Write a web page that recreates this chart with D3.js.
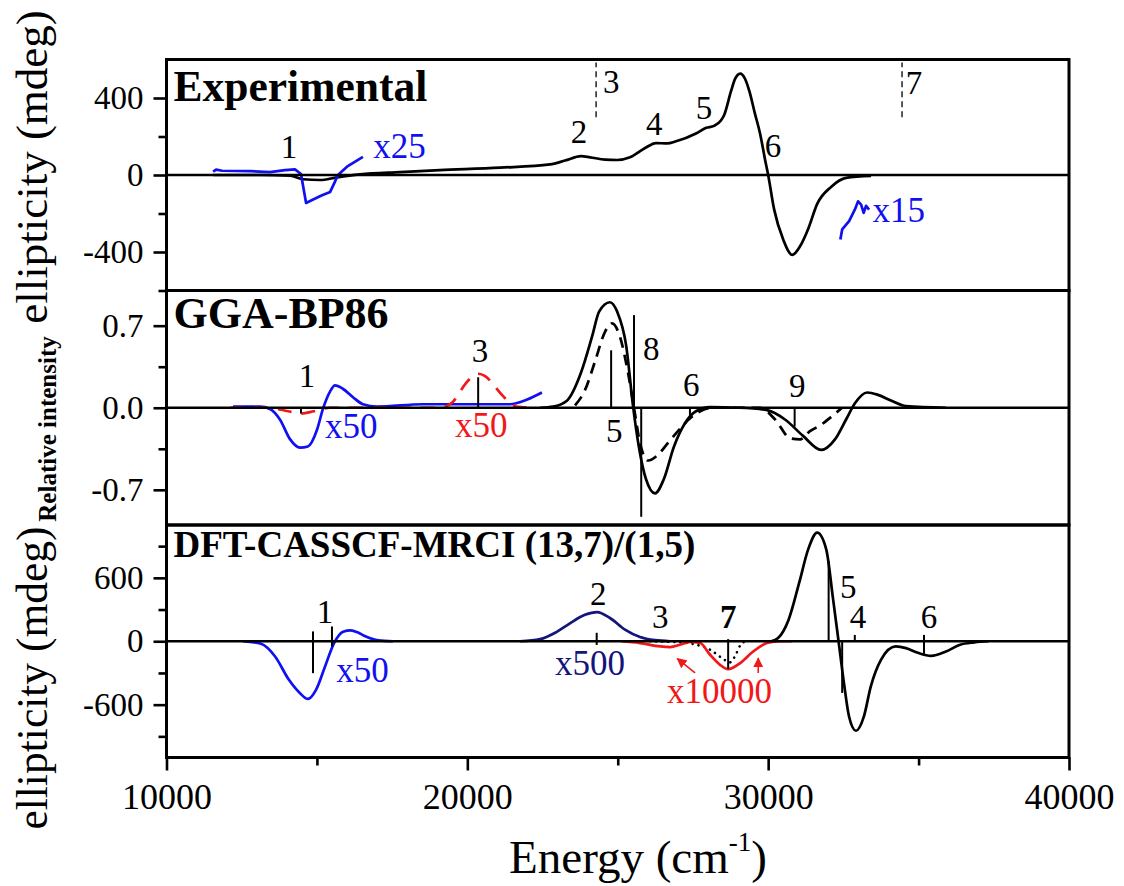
<!DOCTYPE html>
<html>
<head>
<meta charset="utf-8">
<script src="https://cdn.jsdelivr.net/npm/d3@7"></script>
<style>
  html, body { margin: 0; padding: 0; background: #fff; }
  svg { display: block; }
</style>
</head>
<body>
<div id="chart"></div>
<script>
// ---- x axis ----
const energyMajor = [10000, 20000, 30000, 40000];
const energyMinor = [15000, 25000, 35000];

// ---- panel 1: Experimental (mdeg) ----
const expTicksMajor = [-400, 0, 400];
const expTicksMinor = [-600, -200, 200];
const expMain = [
  [11550, 0], [13110, 0], [14110, -3], [14540, -22], [15100, -26], [15670, -12],
  [16430, 3], [17760, 15], [19090, 25], [21090, 38], [22750, 55], [23250, 75],
  [23780, 98], [24080, 92], [24580, 80], [24980, 78], [25410, 92], [25910, 140],
  [26270, 166], [26640, 164], [26940, 175], [27600, 216], [27940, 245], [28200, 255],
  [28430, 283], [28530, 309], [28770, 438], [28900, 499], [29070, 527], [29230, 500],
  [29370, 438], [29560, 319], [29730, 216], [29900, 77], [30000, 0], [30200, -180],
  [30500, -335], [30800, -415], [31060, -370], [31330, -280], [31630, -150],
  [32090, -62], [32590, -15], [33420, -5]
];
const expX25 = [
  [11550, 17], [11650, 28], [11850, 22], [12780, 20], [13440, 15], [13940, 25],
  [14270, 29], [14470, 5], [14640, -145], [14840, -130], [15170, -105], [15440, -88],
  [15570, -45], [15700, 0], [16000, 43], [16530, 94]
];
const expX15 = [
  [32400, -335], [32460, -283], [32690, -240], [32880, -180], [32990, -137],
  [33090, -154], [33175, -197], [33255, -160], [33355, -180]
];
const expDashed = [[24280, 300, 600], [34450, 300, 600]];
const expLabels = [
  ["1", 14070, 88], ["2", 23710, 165], ["3", 24780, 427], ["4", 26210, 206],
  ["5", 27870, 293], ["6", 30160, 93], ["7", 34850, 422]
];
const expNotes = [["x25", 16870, 88], ["x15", 33470, -242]];

// ---- panel 2: GGA-BP86 (relative intensity) ----
const ggaTicksMajor = [-0.7, 0, 0.7];
const ggaTicksMinor = [-0.35, 0.35];
const ggaSolid = [
  [22420, 0], [22850, 0.01], [23310, 0.06], [23780, 0.30], [24150, 0.61],
  [24380, 0.82], [24740, 0.90], [24980, 0.82], [25280, 0.53], [25510, 0.01],
  [25700, -0.33], [25940, -0.61], [26240, -0.73], [26530, -0.61], [26870, -0.33],
  [27240, -0.13], [27600, -0.03], [28070, 0.005], [29020, 0], [29960, -0.02],
  [30560, -0.10], [31160, -0.24], [31760, -0.36], [32220, -0.27], [32590, -0.10],
  [32890, 0.04], [33290, 0.13], [33650, 0.11], [34120, 0.057], [34580, 0.014],
  [35910, 0]
];
const ggaDashed = [
  [23580, 0.02], [23910, 0.15], [24250, 0.4], [24580, 0.65], [24810, 0.72],
  [25080, 0.6], [25340, 0.3], [25540, 0], [25740, -0.3], [26010, -0.45],
  [26340, -0.4], [26670, -0.3], [27070, -0.18], [27400, -0.09], [27740, -0.03],
  [28140, 0], [29730, 0], [30230, -0.1], [30730, -0.26], [31060, -0.27],
  [31390, -0.2], [31790, -0.14], [32130, -0.07], [32460, 0]
];
const ggaBlueX50 = [
  [12210, 0.01], [13110, 0.01], [13440, -0.01], [13770, -0.1], [14110, -0.27],
  [14440, -0.34], [14700, -0.33], [15000, -0.19], [15200, -0.01], [15440, 0.14],
  [15600, 0.19], [15870, 0.16], [16200, 0.09], [16530, 0.03], [17000, 0.01],
  [18530, 0.03], [19660, 0.03], [21420, 0.03], [21650, 0.04], [21990, 0.07],
  [22480, 0.13]
];
const ggaRedX50 = [
  [12110, 0], [13440, 0], [14040, -0.03], [14470, -0.05], [14900, -0.03],
  [15440, 0], [19090, 0], [19520, 0.05], [19760, 0.14], [19990, 0.22],
  [20190, 0.27], [20360, 0.29], [20590, 0.27], [20920, 0.18], [21150, 0.11],
  [21390, 0.05], [21620, 0.01], [22080, 0]
];
const ggaSticks = [
  [14470, -0.05, 0], [20360, 0, 0.26], [24780, 0, 0.49], [25540, 0, 0.79],
  [25780, -0.93, 0], [27400, -0.1, 0], [30880, -0.16, 0]
];
const ggaLabels = [
  ["1", 14670, 0.174], ["3", 20420, 0.39], ["8", 26110, 0.41],
  ["6", 27440, 0.097], ["9", 30970, 0.088], ["5", 24880, -0.29]
];
const ggaNotes = [["x50", 15270, -0.255, "blue"], ["x50", 19590, -0.247, "red"]];

// ---- panel 3: DFT-CASSCF-MRCI (mdeg) ----
const mrciTicksMajor = [-600, 0, 600];
const mrciTicksMinor = [-900, -300, 300, 900];
const mrciMain = [
  [30100, 0], [30330, 30], [30680, 204], [31030, 552], [31330, 869], [31630, 1027],
  [31930, 869], [32160, 394], [32340, 0], [32520, -397], [32690, -714],
  [32920, -847], [33180, -714], [33410, -429], [33750, -176], [34240, -49],
  [34580, -65], [34950, -106], [35420, -138], [35910, -97], [36380, -33],
  [36850, -11], [37330, 0]
];
const mrciBlueX50 = [
  [12540, 0], [13140, -24], [13610, -144], [14070, -365], [14440, -492],
  [14700, -546], [14970, -460], [15270, -239], [15570, -17], [15870, 90],
  [16120, 103], [16350, 85], [16570, 52], [17050, 8], [17530, 0]
];
const mrciNavyX500 = [
  [21750, 0], [22420, 20], [22920, 80], [23410, 170], [23910, 250], [24310, 275],
  [24740, 220], [25240, 110], [25740, 40], [26240, 10], [26740, 0]
];
const mrciRedX10000 = [
  [25110, 0], [25740, -17], [26410, -49], [26740, -55], [27070, -33], [27400, -5],
  [27740, -17], [28070, -128], [28400, -223], [28670, -264], [29070, -207],
  [29500, -97], [29960, -17], [30400, 0], [30800, 0]
];
const mrciDotted = [
  [26070, 0], [27070, -10], [27570, -30], [28070, -80], [28470, -160],
  [28730, -200], [28900, -140], [29070, -40], [29230, 0]
];
const mrciSticks = [
  [14870, -302, 93], [15500, -49, 140], [24300, -35, 80], [28670, -264, 20],
  [32010, 0, 758], [32460, -489, 0], [32880, 0, 60], [35180, -130, 60]
];
const mrciLabels = [
  ["1", 15270, 176, false], ["2", 24350, 347, false], ["3", 26410, 128, false],
  ["7", 28670, 128, true], ["5", 32660, 413, false], ["4", 32990, 128, false],
  ["6", 35350, 128, false]
];
const mrciNotes = [
  ["x50", 15640, -382, "blue"], ["x500", 22910, -318, "navy"], ["x10000", 26640, -584, "red"]
];
const mrciArrows = [[27570, -300, 26980, -165], [29670, -300, 29670, -160]];

// ---- layout ----
const W = 1124, H = 886;
const L = 166.5, R = 1069;
const FONT = "'Liberation Serif', 'Times New Roman', Times, serif";
const colors = { blue: "#1010f0", navy: "#14147a", red: "#f01818", black: "#000" };

const svg = d3.select("#chart").append("svg")
  .attr("width", W).attr("height", H).style("font-family", FONT);

const defs = svg.append("defs");
defs.append("marker")
  .attr("id", "redhead").attr("viewBox", "0 0 10 10").attr("refX", 9).attr("refY", 5)
  .attr("markerWidth", 10).attr("markerHeight", 10).attr("markerUnits", "userSpaceOnUse")
  .attr("orient", "auto")
  .append("path").attr("d", "M0,0 L10,5 L0,10 Z").attr("fill", colors.red);

const x = d3.scaleLinear().domain([10000, 40000]).range([L, R]);

const panels = [
  { top: 59.5, bottom: 290.5, domain: [-600, 600], major: expTicksMajor, minor: expTicksMinor,
    fmt: d => String(d), title: "Experimental", titleSize: 43.5, titleY: 101 },
  { top: 290.5, bottom: 525, domain: [-1, 1], major: ggaTicksMajor, minor: ggaTicksMinor,
    fmt: d => d.toFixed(1), title: "GGA-BP86", titleSize: 44, titleY: 328 },
  { top: 525, bottom: 757.5, domain: [-1100, 1100], major: mrciTicksMajor, minor: mrciTicksMinor,
    fmt: d => String(d), title: "DFT-CASSCF-MRCI (13,7)/(1,5)", titleSize: 37, titleY: 557 }
];
panels.forEach(p => { p.y = d3.scaleLinear().domain(p.domain).range([p.bottom, p.top]); });

const line = (y, curve) => d3.line().x(d => x(d[0])).y(d => y(d[1])).curve(curve || d3.curveMonotoneX);

function drawCurve(p, data, color, opts = {}) {
  svg.append("path").datum(data)
    .attr("d", line(p.y, opts.curve))
    .attr("fill", "none").attr("stroke", color)
    .attr("stroke-width", opts.width || 2.7)
    .attr("stroke-dasharray", opts.dash || null)
    .attr("stroke-linecap", opts.cap || "butt")
    .attr("stroke-linejoin", "round");
}

function drawSticks(p, sticks, color) {
  svg.append("g").selectAll("line").data(sticks).join("line")
    .attr("x1", d => x(d[0])).attr("x2", d => x(d[0]))
    .attr("y1", d => p.y(d[1])).attr("y2", d => p.y(d[2]))
    .attr("stroke", color || "#000").attr("stroke-width", 2);
}

function drawLabels(p, labels) {
  svg.append("g").selectAll("text").data(labels).join("text")
    .attr("x", d => x(d[1])).attr("y", d => p.y(d[2]))
    .attr("text-anchor", "middle").attr("font-size", 33)
    .attr("font-weight", d => d[3] ? "bold" : "normal")
    .attr("fill", "#000").text(d => d[0]);
}

function drawNotes(p, notes, defColor) {
  svg.append("g").selectAll("text").data(notes).join("text")
    .attr("x", d => x(d[1])).attr("y", d => p.y(d[2]))
    .attr("font-size", 35).attr("fill", d => colors[d[3] || defColor])
    .text(d => d[0]);
}

// ---- panel 1 ----
const p1 = panels[0];
svg.append("g").selectAll("line").data(expDashed).join("line")
  .attr("x1", d => x(d[0])).attr("x2", d => x(d[0]))
  .attr("y1", d => p1.y(d[1])).attr("y2", d => p1.y(d[2]) + 3)
  .attr("stroke", "#000").attr("stroke-width", 1.3).attr("stroke-dasharray", "6,4");
drawCurve(p1, expMain, "#000");
drawCurve(p1, expX25, colors.blue, { curve: d3.curveLinear });
drawCurve(p1, expX15, colors.blue, { curve: d3.curveLinear });
drawLabels(p1, expLabels);
drawNotes(p1, expNotes.map(d => [...d, "blue"]), "blue");

// ---- panel 2 ----
const p2 = panels[1];
drawCurve(p2, ggaBlueX50, colors.blue);
drawCurve(p2, ggaRedX50, colors.red, { dash: "14,10" });
drawCurve(p2, ggaDashed, "#000", { dash: "11,7" });
drawCurve(p2, ggaSolid, "#000");
drawSticks(p2, ggaSticks);
drawLabels(p2, ggaLabels);
drawNotes(p2, ggaNotes, "blue");

// ---- panel 3 ----
const p3 = panels[2];
drawCurve(p3, mrciBlueX50, colors.blue);
drawCurve(p3, mrciNavyX500, colors.navy);
drawCurve(p3, mrciDotted, "#000", { dash: "0.1,6", cap: "round", width: 2.6 });
drawCurve(p3, mrciRedX10000, colors.red);
drawCurve(p3, mrciMain, "#000");
drawSticks(p3, mrciSticks);
drawLabels(p3, mrciLabels);
drawNotes(p3, mrciNotes, "blue");
svg.append("g").selectAll("line").data(mrciArrows).join("line")
  .attr("x1", d => x(d[0])).attr("y1", d => p3.y(d[1]))
  .attr("x2", d => x(d[2])).attr("y2", d => p3.y(d[3]))
  .attr("stroke", colors.red).attr("stroke-width", 1.6)
  .attr("marker-end", "url(#redhead)");

// ---- zero lines, frames, y axes, titles ----
panels.forEach(p => {
  svg.append("line").attr("x1", L).attr("x2", R).attr("y1", p.y(0)).attr("y2", p.y(0))
    .attr("stroke", "#000").attr("stroke-width", 2.6);

  const major = svg.append("g").attr("transform", `translate(${L},0)`)
    .call(d3.axisLeft(p.y).tickValues(p.major).tickSize(13).tickPadding(10).tickFormat(p.fmt));
  const minor = svg.append("g").attr("transform", `translate(${L},0)`)
    .call(d3.axisLeft(p.y).tickValues(p.minor).tickSize(8).tickFormat(""));
  [major, minor].forEach(g => {
    g.attr("font-family", null);
    g.select(".domain").remove();
    g.selectAll("line").attr("stroke-width", 2.6);
    g.selectAll("text").attr("font-size", 33).attr("fill", "#000");
  });

  svg.append("text").attr("x", L + 7).attr("y", p.titleY)
    .attr("font-size", p.titleSize).attr("font-weight", "bold").text(p.title);
});

// frames
panels.forEach(p => {
  svg.append("rect").attr("x", L).attr("y", p.top).attr("width", R - L).attr("height", p.bottom - p.top)
    .attr("fill", "none").attr("stroke", "#000").attr("stroke-width", 3);
});

// x axis
const xa = svg.append("g").attr("transform", `translate(0,${panels[2].bottom})`)
  .call(d3.axisBottom(x).tickValues(energyMajor).tickSize(13).tickPadding(13).tickFormat(d => String(d)));
const xm = svg.append("g").attr("transform", `translate(0,${panels[2].bottom})`)
  .call(d3.axisBottom(x).tickValues(energyMinor).tickSize(8).tickFormat(""));
[xa, xm].forEach(g => {
  g.attr("font-family", null);
  g.select(".domain").remove();
  g.selectAll("line").attr("stroke-width", 2.6);
  g.selectAll("text").attr("font-size", 36).attr("fill", "#000");
});

const xt = svg.append("text").attr("x", 638).attr("y", 873).attr("text-anchor", "middle")
  .attr("font-size", 47);
xt.append("tspan").text("Energy (cm");
xt.append("tspan").attr("font-size", 27).attr("dy", -22).text("-1");
xt.append("tspan").attr("dy", 22).text(")");

// y titles
const yTitles = [
  { text: "ellipticity (mdeg)", cy: 167, bx: 47, size: 45, bold: false },
  { text: "Relative intensity", cy: 429, bx: 56, size: 25, bold: true },
  { text: "ellipticity (mdeg)", cy: 678, bx: 47, size: 43.5, bold: false }
];
svg.append("g").selectAll("text").data(yTitles).join("text")
  .attr("transform", d => `translate(${d.bx},${d.cy}) rotate(-90)`)
  .attr("text-anchor", "middle").attr("font-size", d => d.size)
  .attr("font-weight", d => d.bold ? "bold" : "normal").text(d => d.text);
</script>
</body>
</html>
